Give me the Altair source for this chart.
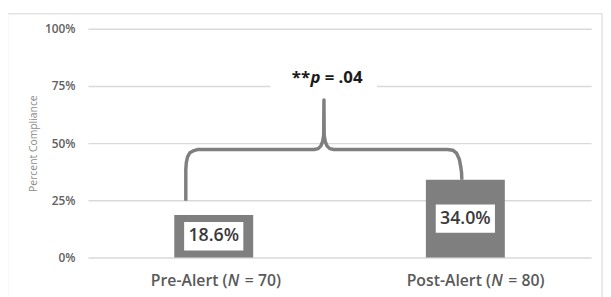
import altair as alt
import pandas as pd

# ---- data ----
categories = ["Pre-Alert", "Post-Alert"]
sample_sizes = [70, 80]
compliance = [18.6, 34.0]
value_labels = ["18.6%", "34.0%"]
y_ticks = [0, 25, 50, 75, 100]
y_title = "Percent Compliance"
p_parts = ["**", "p", "= .04"]

# ---- annotation geometry (brace), x in category units, y in percent ----
brace_x = [0.389, 0.389, 0.391, 0.396, 0.405, 0.418, 0.435,
           0.899, 0.915, 0.926, 0.933, 0.937, 0.938,
           0.939, 0.943, 0.950, 0.961, 0.977,
           1.430, 1.450, 1.465, 1.476, 1.482, 1.485, 1.486]
brace_y = [24.8, 38.4, 41.5, 44.0, 45.8, 46.6, 47.2,
           47.2, 47.6, 48.8, 50.8, 53.5, 68.9,
           53.5, 50.8, 48.8, 47.6, 47.2,
           47.2, 46.9, 45.6, 43.0, 39.5, 37.0, 34.0]

W, H = 510, 232
GRAY = "#7f7f7f"
FONT = "Open Sans"

df = pd.DataFrame({"cat": categories, "n": sample_sizes, "pct": compliance,
                   "label": value_labels})
df["a"] = [f"{c} (" for c in categories]
df["nn"] = "N"
df["c"] = [f"= {n})" for n in sample_sizes]

xscale = alt.Scale(type="band", domain=categories, paddingInner=0, paddingOuter=0)
yscale = alt.Scale(domain=[0, 100], nice=False, zero=True)
yaxis = alt.Axis(values=y_ticks, labelExpr="datum.value + '%'", domain=False,
                 ticks=False, grid=True, gridColor="#d9d9d9", gridWidth=1.5,
                 labelFont=FONT, labelFontSize=12, labelFontWeight=600,
                 labelColor="#606060", labelPadding=13,
                 titleFont=FONT, titleFontSize=10.5, titleFontWeight="normal",
                 titleColor="#8c8c8c", titlePadding=6)


def X(field="cat:N"):
    return alt.X(field, scale=xscale, axis=None, sort=categories)


def Y(field):
    return alt.Y(field, scale=yscale, axis=yaxis, title=y_title)


base = alt.Chart(df)

border = alt.Chart(pd.DataFrame({"k": [0]})).mark_rect(
    fill=None, stroke="#e3e3e3", strokeWidth=1.5
).encode(x=alt.value(-81.5), x2=alt.value(521), y=alt.value(-15), y2=alt.value(290))

bars = base.mark_bar(size=80, color=GRAY).encode(x=X(), y=Y("pct:Q"))

boxes = base.transform_calculate(
    lo="datum.pct / 2 - 6.2", hi="datum.pct / 2 + 6.2"
).mark_bar(size=60, color="white").encode(x=X(), y=Y("lo:Q"), y2="hi:Q")

bar_text = base.transform_calculate(mid="datum.pct / 2").mark_text(
    font=FONT, fontSize=18, fontWeight=600, color="#3a3a3a", baseline="middle"
).encode(x=X(), y=Y("mid:Q"), text="label:N")

# x-axis labels in three pieces (italic N)
DX = {"Pre-Alert": (14, 20, 31.5), "Post-Alert": (26, 32, 43.5)}
xl_layers = []
for cat in categories:
    dxa, dxn, dxc = DX[cat]
    sub = base.transform_filter(alt.datum.cat == cat)
    common = dict(font=FONT, fontSize=16, fontWeight=600, color="#595959",
                  baseline="middle")
    xl_layers.append(sub.mark_text(align="right", dx=dxa, **common).encode(
        x=X(), y=alt.value(H + 24), text="a:N"))
    xl_layers.append(sub.mark_text(align="center", dx=dxn, fontStyle="italic", **common).encode(
        x=X(), y=alt.value(H + 24), text="nn:N"))
    xl_layers.append(sub.mark_text(align="left", dx=dxc, **common).encode(
        x=X(), y=alt.value(H + 24), text="c:N"))

main = alt.layer(border, bars, boxes, bar_text, *xl_layers)

# ---- annotation layer (independent quantitative x in category units) ----
qx = alt.Scale(domain=[0, 2], nice=False, zero=False)
brace_df = pd.DataFrame({"bx": brace_x, "by": brace_y, "o": range(len(brace_x))})
brace = alt.Chart(brace_df).mark_line(
    color=GRAY, strokeWidth=3.5, strokeJoin="round"
).encode(x=alt.X("bx:Q", scale=qx, axis=None), y=Y("by:Q"), order="o:Q")

cut_df = pd.DataFrame({"x1": [0.725], "x2": [1.149], "y1": [72.9], "y2": [83.6]})
cut = alt.Chart(cut_df).mark_rect(color="white").encode(
    x=alt.X("x1:Q", scale=qx, axis=None), x2="x2:Q", y=Y("y1:Q"), y2="y2:Q")

p_df = pd.DataFrame({"px": [0.938], "py": [78.5], "s1": [p_parts[0]],
                     "s2": [p_parts[1]], "s3": [p_parts[2]]})
pbase = alt.Chart(p_df)
pcommon = dict(font=FONT, fontSize=17, fontWeight="bold", color="#1a1a1a",
               baseline="middle")
p1 = pbase.mark_text(align="right", dx=-14, **pcommon).encode(
    x=alt.X("px:Q", scale=qx, axis=None), y=Y("py:Q"), text="s1:N")
p2 = pbase.mark_text(align="center", dx=-8.5, fontStyle="italic", **pcommon).encode(
    x=alt.X("px:Q", scale=qx, axis=None), y=Y("py:Q"), text="s2:N")
p3 = pbase.mark_text(align="left", dx=0.7, **pcommon).encode(
    x=alt.X("px:Q", scale=qx, axis=None), y=Y("py:Q"), text="s3:N")

annot = alt.layer(cut, brace, p1, p2, p3)

chart = alt.layer(main, annot).resolve_scale(x="independent").properties(
    width=W, height=H,
    autosize=alt.AutoSizeParams(type="none"),
    padding={"left": 81, "top": 19, "right": 12, "bottom": 38},
).configure_view(stroke=None)

chart.save("out.html", embed_options={"renderer": "svg", "actions": False})
